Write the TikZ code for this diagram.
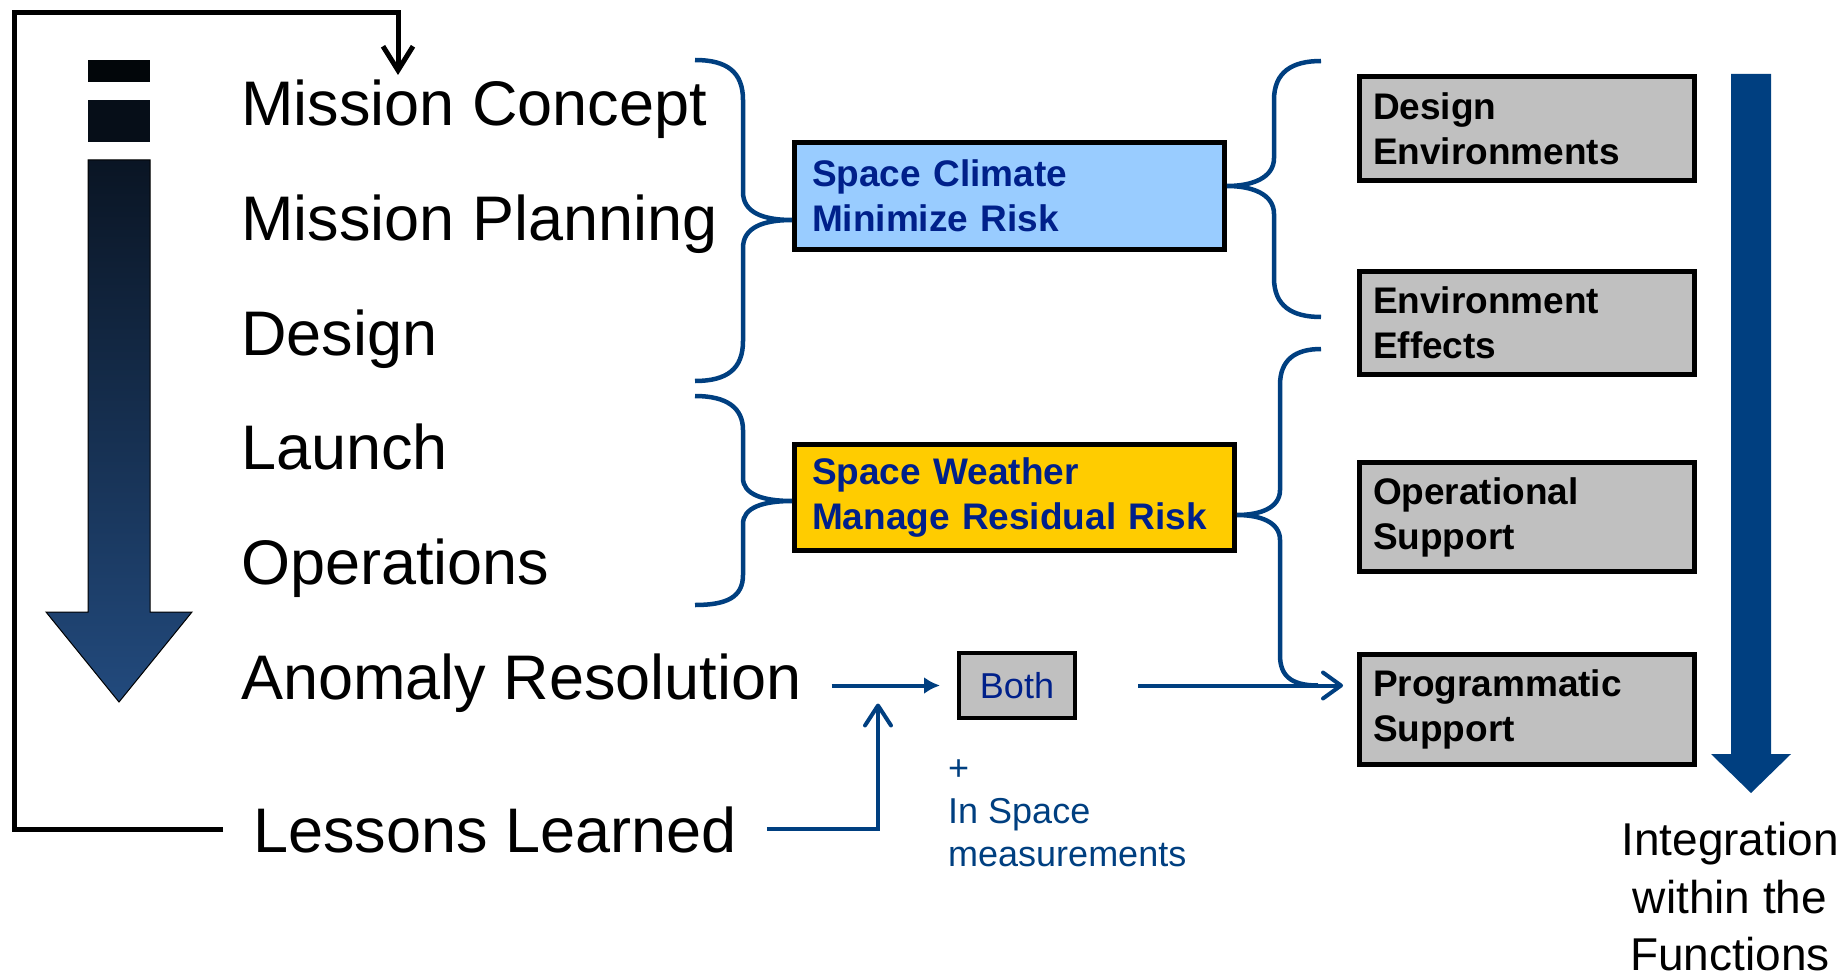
\documentclass[tikz,border=0pt]{standalone}
\usepackage{fontspec}
\setmainfont{Liberation Sans}
\usetikzlibrary{arrows.meta}

\definecolor{navy}{HTML}{003F80}
\definecolor{inkblue}{HTML}{00208A}
\definecolor{climatefill}{HTML}{99CCFF}
\definecolor{weatherfill}{HTML}{FFCC00}
\definecolor{boxgray}{HTML}{C0C0C0}
\definecolor{blockone}{HTML}{02060A}
\definecolor{blocktwo}{HTML}{060E18}
\definecolor{shaftdark}{HTML}{0A1524}
\definecolor{shaftlight}{HTML}{224A7D}

\begin{document}
\begin{tikzpicture}[x=1pt,y=-1pt]
      \tikzstyle{phase}=[anchor=base west,inner sep=0pt,font=\fontsize{63}{75}\selectfont]
      \tikzstyle{riskbox}=[draw=black,line width=5pt,inner xsep=17.5pt,inner ysep=0pt,align=left,text=inkblue,font=\fontsize{37}{45}\selectfont\bfseries]
      \tikzstyle{funcbox}=[draw=black,line width=5pt,fill=boxgray,inner xsep=13.5pt,inner ysep=0pt,text width=308pt,align=left,font=\fontsize{37}{45}\selectfont\bfseries]
      \tikzstyle{brace}=[draw=navy,line width=4.5pt]
      \tikzstyle{flow}=[draw=navy,line width=4pt]

      \useasboundingbox (0,0) rectangle (1848,979);

      % life cycle arrow
      \fill[blockone] (88,60) rectangle (150,82);
      \fill[blocktwo] (88,100) rectangle (150,142);
      \draw[line width=1pt,top color=shaftdark,bottom color=shaftlight] (88,160) -- (150,160) -- (150,612) -- (192,612) -- (119,702) -- (46,612) -- (88,612) -- cycle;

      \node[phase] (concept) at (241,126) {Mission Concept};
      \node[phase] (planning) at (241,240) {Mission Planning};
      \node[phase] (design) at (241,355) {Design};
      \node[phase] (launch) at (241,469) {Launch};
      \node[phase] (ops) at (241,584) {Operations};
      \node[phase] (anomaly) at (241,699) {Anomaly Resolution};
      \node[phase] (lessons) at (253,852) {Lessons Learned};

      \node[riskbox,fill=climatefill,text width=395pt,minimum height=107pt] (climate) at (1009.5,196) {Space Climate\\Minimize Risk};
      \node[riskbox,fill=weatherfill,text width=405pt,minimum height=106pt] (weather) at (1014.5,497.5) {Space Weather\\Manage Residual Risk};

      \node[funcbox,minimum height=104pt] (desenv) at (1527,128.5) {Design\\Environments};
      \node[funcbox,minimum height=103pt] (enveff) at (1527,323) {Environment\\Effects};
      \node[funcbox,minimum height=109pt] (opsup) at (1527,517) {Operational\\Support};
      \node[funcbox,minimum height=110pt] (progsup) at (1527,709.5) {Programmatic\\Support};

      \node[draw=black,line width=4pt,fill=boxgray,minimum width=116pt,minimum height=65pt,inner sep=0pt,text=inkblue,font=\fontsize{36}{43}\selectfont] (both) at (1017,685.5) {Both};
      \node[anchor=north west,inner sep=0pt,align=left,text=navy,font=\fontsize{36}{43}\selectfont] (note) at (948,760) {+\\In Space\\measurements};

      \node[anchor=north,inner sep=0pt,align=center,font=\fontsize{46}{57.5}\selectfont] (integ) at (1730,822) {Integration\\within the\\Functions};

      % integration arrow
      \fill[navy] (1731,74) -- (1771,74) -- (1771,754) -- (1791,754) -- (1751,793) -- (1711,754) -- (1731,754) -- cycle;

      % braces
      \coordinate (cb1) at (695,60);
      \coordinate (cb2) at (695,381);
      \draw[brace] (cb1) .. controls (727,60) and (743,72) .. (743,100) -- (743,192) .. controls (743,212) and (762,220) .. ([yshift=-24pt]climate.west) .. controls (762,220) and (743,228) .. (743,248) -- (743,341) .. controls (743,369) and (727,381) .. (cb2);

      \coordinate (db1) at (1321,61);
      \coordinate (db2) at (1321,317);
      \draw[brace] (db1) .. controls (1292,61) and (1274,72) .. (1274,100) -- (1274,158) .. controls (1274,178) and (1252,186) .. ([yshift=10pt]climate.east) .. controls (1252,186) and (1274,194) .. (1274,214) -- (1274,278) .. controls (1274,306) and (1292,317) .. (db2);

      \coordinate (wb1) at (695,396);
      \coordinate (wb2) at (695,605);
      \draw[brace] (wb1) .. controls (727,396) and (743,408) .. (743,430) -- (743,478) .. controls (743,494) and (762,501) .. ([yshift=-3.5pt]weather.west) .. controls (762,501) and (743,508) .. (743,524) -- (743,575) .. controls (743,597) and (727,605) .. (wb2);

      \coordinate (eb1) at (1321,349);
      \coordinate (eb2) at (1318,685.5);
      \draw[brace] (eb1) .. controls (1295,349) and (1280,360) .. (1280,385) -- (1280,490) .. controls (1280,508) and (1260,515) .. ([yshift=-17.5pt]weather.east) .. controls (1260,515) and (1280,522) .. (1280,540) -- (1280,655) .. controls (1280,675) and (1290,685.5) .. (eb2);

      % flows
      \coordinate (a0) at ([xshift=30pt]anomaly.east);
      \draw[flow,shorten >=17pt,-{Latex[length=16pt,width=17pt]}] (a0 |- both.west) -- (both.west);

      \coordinate (l0) at ([xshift=30pt]lessons.east);
      \coordinate (j) at (878,685.5);
      \draw[flow,shorten >=18pt,-{Straight Barb[length=20pt,width=26pt,round]}] (l0) -| (j);

      \coordinate (b0) at ([xshift=61pt]both.east);
      \draw[flow,shorten >=14pt,-{Straight Barb[length=18pt,width=26pt,round]}] (b0) -- (b0 -| progsup.west);

      % feedback loop
      \coordinate (fb0) at ([xshift=-30pt]lessons.west);
      \coordinate (fbc) at (14,12.5);
      \coordinate (fbt) at (398,75);
      \draw[line width=5pt,-{Straight Barb[length=24pt,width=30pt]}] (fb0) -| (fbc) -| (fbt);
\end{tikzpicture}
\end{document}
